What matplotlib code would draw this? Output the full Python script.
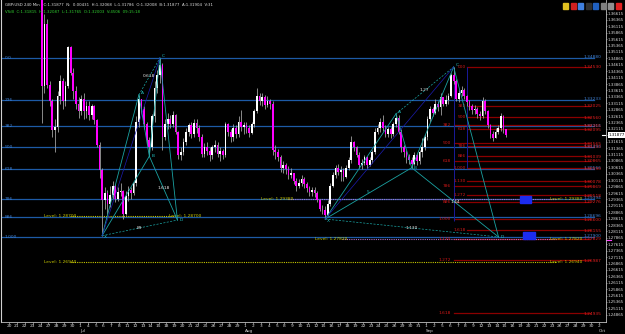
import matplotlib
matplotlib.use("Agg")
import matplotlib.pyplot as plt
import matplotlib.transforms as mtransforms
import numpy as np

# ---- time axis: trading days Jun 20 .. Oct 2 (2016) ----
day_labels = ["20", "21", "22", "23", "24", "27", "28", "29", "30",
              "1", "4", "5", "6", "7", "8", "11", "12", "13", "14", "15", "18", "19", "20", "21", "22",
              "25", "26", "27", "28", "29",
              "1", "2", "3", "4", "5", "8", "9", "10", "11", "12", "15", "16", "17", "18", "19", "22",
              "23", "24", "25", "26", "29", "30", "31",
              "1", "2", "5", "6", "7", "8", "9", "12", "13", "14", "15", "16", "19", "20", "21", "22",
              "23", "26", "27", "28", "29", "30",
              "2"]
month_names = ["Jul", "Aug", "Sep", "Oct"]
month_days = [9, 30, 53, 75]

# ---- candles (3 per trading day, starting Jun 24) ----
first_day = 4
bars_per_day = 3
first_open = 1.4600
closes = [
    1.3380, 1.3620, 1.3383,  1.3320, 1.3207, 1.3220,  1.3340, 1.3400, 1.3320,  1.3380, 1.3530, 1.3430,
    1.3360, 1.3310, 1.3280,  1.3330, 1.3280, 1.3300,  1.3265, 1.3300, 1.3245,  1.3150, 1.3050, 1.2935,
    1.2960, 1.2920, 1.2955,  1.2990, 1.2940, 1.2965,  1.2970, 1.2880, 1.2950,  1.2975, 1.2960, 1.3000,
    1.3240, 1.3330, 1.3290,  1.3230, 1.3170, 1.3140,  1.3260, 1.3370, 1.3420,  1.3460, 1.3180, 1.3230,
    1.3250, 1.3230, 1.3265,  1.3200, 1.3110, 1.3120,  1.3160, 1.3200, 1.3225,  1.3190, 1.3235, 1.3215,
    1.3180, 1.3115, 1.3140,  1.3125, 1.3110, 1.3140,  1.3150, 1.3115, 1.3125,  1.3110, 1.3230, 1.3200,
    1.3180, 1.3215, 1.3190,  1.3240, 1.3220, 1.3225,  1.3215, 1.3195, 1.3230,  1.3280, 1.3340, 1.3320,
    1.3335, 1.3305, 1.3320,  1.3310, 1.3130, 1.3120,  1.3100, 1.3060, 1.3070,  1.3055, 1.3030, 1.3040,
    1.3010, 1.2990, 1.3000,  1.3015, 1.2995, 1.2980,  1.2965, 1.2975, 1.2960,  1.2935, 1.2900, 1.2895,
    1.2875, 1.2920, 1.2990,  1.3030, 1.3060, 1.3045,  1.3050, 1.3025, 1.3060,  1.3090, 1.3160, 1.3140,
    1.3110, 1.3070, 1.3080,  1.3100, 1.3070, 1.3090,  1.3120, 1.3200, 1.3215,  1.3240, 1.3215, 1.3190,
    1.3210, 1.3190, 1.3230,  1.3255, 1.3200, 1.3140,  1.3120, 1.3100, 1.3090,  1.3075, 1.3110, 1.3085,
    1.3120, 1.3140, 1.3180,  1.3250, 1.3290, 1.3275,  1.3310, 1.3295, 1.3335,  1.3310, 1.3325, 1.3340,
    1.3420, 1.3400, 1.3330,  1.3350, 1.3365, 1.3340,  1.3315, 1.3300, 1.3285,  1.3290, 1.3270, 1.3260,
    1.3320, 1.3280, 1.3225,  1.3190, 1.3175, 1.3200,  1.3215, 1.3260, 1.3210,  1.3188,
]
highs = [
    1.4700, 1.3660, 1.3640,  1.3400, 1.3330, 1.3250,  1.3360, 1.3420, 1.3410,  1.3400, 1.3535, 1.3535,
    1.3450, 1.3380, 1.3335,  1.3345, 1.3350, 1.3320,  1.3320, 1.3310, 1.3305,  1.3250, 1.3160, 1.3060,
    1.2985, 1.2975, 1.2990,  1.3010, 1.2995, 1.2985,  1.3000, 1.2975, 1.2970,  1.2990, 1.2985, 1.3010,
    1.3260, 1.3344, 1.3330,  1.3300, 1.3240, 1.3180,  1.3270, 1.3400, 1.3440,  1.3488, 1.3470, 1.3250,
    1.3275, 1.3265, 1.3280,  1.3270, 1.3205, 1.3140,  1.3175, 1.3215, 1.3235,  1.3240, 1.3250, 1.3250,
    1.3225, 1.3190, 1.3155,  1.3160, 1.3140, 1.3150,  1.3170, 1.3160, 1.3140,  1.3135, 1.3240, 1.3235,
    1.3210, 1.3230, 1.3225,  1.3260, 1.3285, 1.3240,  1.3240, 1.3225, 1.3240,  1.3290, 1.3372, 1.3350,
    1.3350, 1.3345, 1.3340,  1.3330, 1.3320, 1.3150,  1.3135, 1.3110, 1.3085,  1.3080, 1.3065, 1.3060,
    1.3040, 1.3020, 1.3015,  1.3030, 1.3025, 1.3005,  1.2990, 1.2985, 1.2985,  1.2970, 1.2940, 1.2915,
    1.2910, 1.2935, 1.3000,  1.3045, 1.3070, 1.3075,  1.3065, 1.3060, 1.3070,  1.3100, 1.3185, 1.3165,
    1.3145, 1.3120, 1.3095,  1.3110, 1.3105, 1.3100,  1.3130, 1.3215, 1.3232,  1.3255, 1.3265, 1.3225,
    1.3220, 1.3220, 1.3240,  1.3270, 1.3265, 1.3210,  1.3150, 1.3130, 1.3115,  1.3100, 1.3120, 1.3115,
    1.3130, 1.3175, 1.3190,  1.3260, 1.3300, 1.3295,  1.3330, 1.3320, 1.3350,  1.3335, 1.3345, 1.3350,
    1.3430, 1.3453, 1.3405,  1.3365, 1.3380, 1.3370,  1.3345, 1.3325, 1.3310,  1.3305, 1.3295, 1.3280,
    1.3335, 1.3330, 1.3285,  1.3230, 1.3205, 1.3215,  1.3225, 1.3275, 1.3265,  1.3207,
]
lows = [
    1.3234, 1.3350, 1.3370,  1.3300, 1.3180, 1.3122,  1.3200, 1.3310, 1.3290,  1.3300, 1.3370, 1.3420,
    1.3330, 1.3290, 1.3255,  1.3265, 1.3250, 1.3255,  1.3245, 1.3250, 1.3230,  1.3140, 1.3020, 1.2795,
    1.2900, 1.2880, 1.2905,  1.2940, 1.2925, 1.2930,  1.2950, 1.2862, 1.2875,  1.2930, 1.2940, 1.2955,
    1.2990, 1.3220, 1.3270,  1.3210, 1.3150, 1.3105,  1.3130, 1.3240, 1.3350,  1.3390, 1.3130, 1.3170,
    1.3210, 1.3215, 1.3220,  1.3190, 1.3095, 1.3090,  1.3110, 1.3150, 1.3185,  1.3175, 1.3180, 1.3195,
    1.3165, 1.3100, 1.3100,  1.3110, 1.3085, 1.3095,  1.3120, 1.3100, 1.3085,  1.3095, 1.3100, 1.3185,
    1.3160, 1.3165, 1.3175,  1.3180, 1.3205, 1.3190,  1.3195, 1.3180, 1.3190,  1.3220, 1.3275, 1.3305,
    1.3300, 1.3290, 1.3295,  1.3290, 1.3110, 1.3095,  1.3085, 1.3045, 1.3040,  1.3035, 1.3015, 1.3020,
    1.2995, 1.2970, 1.2980,  1.2990, 1.2980, 1.2965,  1.2950, 1.2950, 1.2945,  1.2925, 1.2890, 1.2880,
    1.2860, 1.2870, 1.2910,  1.2985, 1.3020, 1.3030,  1.3010, 1.3010, 1.3020,  1.3050, 1.3080, 1.3125,
    1.3100, 1.3060, 1.3055,  1.3070, 1.3055, 1.3065,  1.3080, 1.3115, 1.3190,  1.3200, 1.3205, 1.3180,
    1.3180, 1.3175, 1.3185,  1.3220, 1.3190, 1.3120,  1.3100, 1.3080, 1.3075,  1.3060, 1.3070, 1.3070,
    1.3075, 1.3100, 1.3130,  1.3170, 1.3240, 1.3260,  1.3270, 1.3280, 1.3265,  1.3300, 1.3300, 1.3310,
    1.3335, 1.3385, 1.3320,  1.3315, 1.3340, 1.3330,  1.3300, 1.3285, 1.3270,  1.3270, 1.3255, 1.3245,
    1.3255, 1.3270, 1.3215,  1.3175, 1.3165, 1.3175,  1.3190, 1.3205, 1.3195,  1.3179,
]
last_price = 1.31877

# ---- blue fibonacci (full width) ----
blue_hi, blue_lo = 1.3488, 1.2790
blue_ratios = [0.0, 0.236, 0.382, 0.5, 0.618, 0.786, 0.886, 1.0]
blue_names = ["0.0", "236", "382", "500", "618", "786", "886", "1.000"]

# ---- red fibonacci sets (right side) ----
red_a_start, red_a_hi, red_a_lo = 56.5, 1.3453, 1.2860
red_a_ratios = [0.382, 0.5, 0.618, 0.786, 0.886, 1.0, 1.13, 1.272, 1.618]
red_b_start, red_b_hi, red_b_lo = 58.2, 1.3453, 1.3059
red_b_ratios = [0.0, 0.382, 0.5, 0.618, 0.786, 0.886, 1.0, 1.13, 1.272, 1.618]
red_end = 73.8

# ---- horizontal "Level" lines ----
level_prices = [1.2870, 1.2694, 1.2938, 1.2782]
level_starts = [4.4, 4.4, 32.0, 38.9]
level_ends = [24.5, 72.9, 72.9, 72.9]
level_colors = ["#c8c800", "#c8c800", "#b070c0", "#b070c0"]

# ---- harmonic patterns X A B C D ----
pat1_x = [11.83, 16.5, 17.83, 19.17, 21.4]
pat1_p = [1.2795, 1.3344, 1.3105, 1.3488, 1.2856]
pat1_ratios = ["0.618", "1.618", "89"]
pat2_x = [40.17, 49.17, 51.17, 56.5, 62.2]
pat2_p = [1.2860, 1.3270, 1.3060, 1.3453, 1.2790]
pat2_ratios = ["1.27", "1.44", "1.130"]
prz_x0 = [64.9, 65.3]
prz_x1 = [66.3, 66.8]
prz_p0 = [1.2923, 1.2782]
prz_p1 = [1.2950, 1.2809]

FS = 3.2
fig = plt.figure(figsize=(6.25, 3.34), dpi=100, facecolor="black")
ax = fig.add_axes([1 / 625, 12 / 334, 605 / 625, 322 / 334], facecolor="black")
ax.set_xlim(-1.02, 75.86)
ax.set_ylim(1.24584, 1.37142)
yblend = mtransforms.blended_transform_factory(ax.transAxes, ax.transData)

# blue fib lines
for r, name in zip(blue_ratios, blue_names):
    p = blue_hi - r * (blue_hi - blue_lo)
    ax.plot([-1.02, 74.3], [p, p], color="#1d5aa6", lw=0.9, zorder=1)
    ax.text(-0.6, p, name, color="#3f7fd0", fontsize=FS, va="center", ha="left", zorder=6)
    ax.text(75.3, p + 0.0003, f"{p:.5f}", color="#3f7fd0", fontsize=FS, va="center", ha="right", zorder=6)

# red fib sets
for start, hi, lo, ratios, lab_x in [(red_a_start, red_a_hi, red_a_lo, red_a_ratios, red_a_start - 0.3),
                                      (red_b_start, red_b_hi, red_b_lo, red_b_ratios, red_b_start - 0.1)]:
    for r in ratios:
        p = hi - r * (hi - lo)
        ax.plot([start, red_end], [p, p], color="#8a0000", lw=0.9, zorder=1)
        name = "000" if r == 0 else ("%d" % round(r * 1000) if r < 1 else f"{r:.3f}")
        ax.text(lab_x, p, name, color="#d01818", fontsize=FS, va="center", ha="right", zorder=6)
        ax.text(75.3, p - 0.0002, f"{p:.5f}", color="#e02020", fontsize=FS, va="center", ha="right", zorder=6)

ax.vlines([red_a_start], red_a_lo - 0.0008, red_a_hi, color="#1a1a9a", lw=0.7, zorder=2)
ax.vlines([red_b_start], red_b_lo, red_b_hi, color="#1a1a9a", lw=0.7, zorder=2)

# Level lines
for p, s, e, c in zip(level_prices, level_starts, level_ends, level_colors):
    ax.plot([s + 3.4, e - 3.4], [p, p], color=c, lw=0.8, ls=(0, (1, 1)), zorder=2)
    ax.text(s, p, f"Level: {p:.5f}", color="#c8c800", fontsize=FS, va="center", ha="left", zorder=6)
    ax.text(e, p, f"Level: {p:.5f}", color="#c8c800", fontsize=FS, va="center", ha="right", zorder=6)

# PRZ boxes
for x0, x1, p0, p1 in zip(prz_x0, prz_x1, prz_p0, prz_p1):
    ax.add_patch(plt.Rectangle((x0, p0), x1 - x0, p1 - p0, color="#1c2cf0", zorder=3))

# candles
n = len(closes)
k = np.arange(n)
xs = first_day + k // bars_per_day + (k % bars_per_day + 0.5) / bars_per_day
opens = np.array([first_open] + closes[:-1])
cl = np.array(closes)
hi = np.maximum(np.array(highs), np.maximum(opens, cl))
lo = np.minimum(np.array(lows), np.minimum(opens, cl))
up = cl >= opens
ax.vlines(xs, lo, hi, colors="#a0a0a0", lw=0.6, zorder=4)
body_bot = np.minimum(opens, cl)
body_h = np.maximum(np.abs(cl - opens), 0.0002)
ax.bar(xs, body_h, bottom=body_bot, width=0.22,
       color=np.where(up, "#ffffff", "#ff00ff"), linewidth=0, zorder=5)


# harmonic patterns
def draw_pattern(px, pp, ratios):
    teal = "#1ba3a3"
    for a, b in [(0, 1), (1, 2), (2, 3), (3, 4), (0, 2), (2, 4)]:
        ax.plot([px[a], px[b]], [pp[a], pp[b]], color=teal, lw=0.6, zorder=6)
    for a, b in [(1, 3), (0, 4)]:
        ax.plot([px[a], px[b]], [pp[a], pp[b]], color=teal, lw=0.5, ls=(0, (3, 2)), zorder=6)
    ax.plot([px[0], px[3]], [pp[0], pp[3]], color="#1c1cb0", lw=0.5, zorder=6)
    for (a, b), t in zip([(1, 3), (2, 4), (0, 4)], ratios):
        ax.text((px[a] + px[b]) / 2, (pp[a] + pp[b]) / 2, t, color="#e8e8e8", fontsize=FS,
                ha="center", va="center", zorder=7)
    for i, name in enumerate("XABCD"):
        dy = [-0.0006, 0.0006, 0.0, 0.0006, 0.0][i]
        ax.text(px[i] + 0.25, pp[i] + dy, name, color="#22c0c0", fontsize=FS, ha="left", va="center", zorder=7)


draw_pattern(pat1_x, pat1_p, pat1_ratios)
draw_pattern(pat2_x, pat2_p, pat2_ratios)
ax.text((pat2_x[0] + pat2_x[2]) / 2, (pat2_p[0] + pat2_p[2]) / 2 + 0.0004, "5", color="#22c0c0",
        fontsize=FS, ha="center", va="center", zorder=7)

# axes styling
ax.spines["top"].set_visible(False)
ax.spines["left"].set_color("#d0d0d0")
ax.spines["left"].set_linewidth(0.8)
ax.spines["right"].set_color("#c0c0c0")
ax.spines["right"].set_linewidth(0.6)
ax.spines["bottom"].set_color("#c0c0c0")
ax.spines["bottom"].set_linewidth(0.6)

ax.set_xticks(np.arange(len(day_labels)))
ax.set_xticklabels(day_labels)
ax.tick_params(axis="x", colors="#d8d8d8", labelsize=FS, length=1.2, width=0.4, pad=0.3)
mblend = mtransforms.blended_transform_factory(ax.transData, fig.transFigure)
for d, m in zip(month_days, month_names):
    ax.text(d, 0.6 / 334, m, transform=mblend, color="#d8d8d8", fontsize=3.0, ha="left", va="bottom",
            clip_on=False)

ax.yaxis.tick_right()
yt = 1.36615 - 0.0025 * np.arange(0, 48)
yt = yt[yt > 1.2460]
ax.set_yticks(yt)
ax.set_yticklabels([f"{v:.5f}" for v in yt])
ax.tick_params(axis="y", colors="#d8d8d8", labelsize=2.9, length=1.0, width=0.4, pad=0.4)

ax.text(1.004, last_price, f"{last_price:.5f}", transform=yblend, color="black", fontsize=2.9,
        ha="left", va="center", zorder=9, clip_on=False,
        bbox=dict(boxstyle="square,pad=0.15", fc="white", ec="none"))
ax.plot([0.993, 0.999], [last_price, last_price], transform=yblend, color="white", lw=0.8, clip_on=False)
ax.plot([1.0, 1.009], [1.2778, 1.2778], transform=yblend, color="#ff40ff", lw=0.8, clip_on=False)

# header text
fig.text(5 / 625, 1 - 5 / 334,
         "GBP/USD 240 Min   C:1.31877  N:  0.00431  H:1.32068  L:1.31786  O:1.32008  B:1.31877  A:1.31904  V:31",
         color="#e0e0e0", fontsize=2.8, va="center", ha="left")
fig.text(5 / 625, 1 - 12 / 334, "VS/B  C:1.31815  H:1.32087  L:1.31765  O:1.32003  V:4506  09:15:18",
         color="#30d030", fontsize=2.8, va="center", ha="left")

# small toolbar glyphs top right
for i, c in enumerate(["#e0c020", "#d02020", "#4080e0", "#303030", "#2060c0", "#808080", "#909090", "#e02020"]):
    fig.patches.append(plt.Rectangle(((563 + i * 7.5) / 625, 1 - 9 / 334), 5 / 625, 6 / 334,
                                     transform=fig.transFigure, color=c, figure=fig))

fig.savefig("out.png", dpi=100, facecolor="black")
